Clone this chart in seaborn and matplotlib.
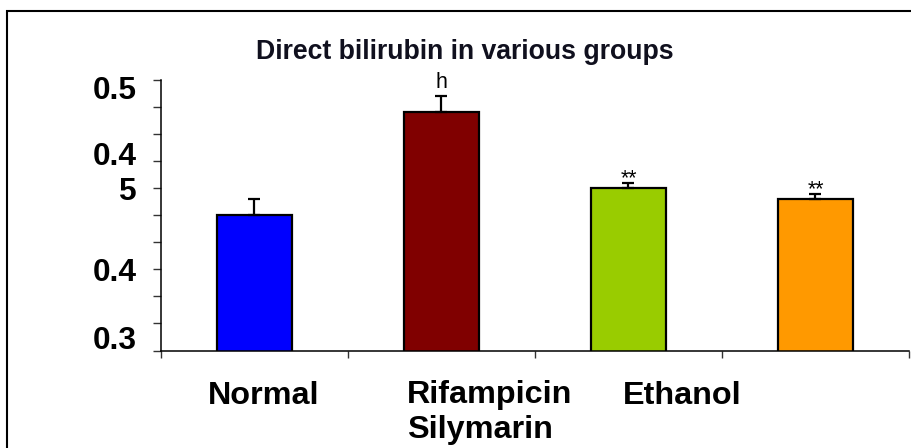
import matplotlib
matplotlib.use("Agg")
import matplotlib.pyplot as plt
from matplotlib.patches import Rectangle
import seaborn as sns
import pandas as pd

# ---- data ----
groups = ["Normal", "Rifampicin\nSilymarin", "Ethanol", " "]
values = [0.400, 0.476, 0.420, 0.412]
errors = [0.012, 0.012, 0.004, 0.004]
annotations = ["", "h", "**", "**"]
bar_colors = ["#0000FF", "#800000", "#99CC00", "#FF9900"]
ytick_labels = ["0.3", "0.4", "5", "0.4", "0.5"]
ytick_values = [0.3096, 0.3602, 0.4201, 0.4453, 0.4941]
minor_ticks = [0.30, 0.32, 0.34, 0.36, 0.38, 0.40, 0.42, 0.44, 0.46, 0.48, 0.50]
title = "Direct bilirubin in various groups"

sns.set_style("ticks")
plt.rcParams["font.family"] = ["Liberation Sans", "DejaVu Sans"]

df = pd.DataFrame({"group": groups, "value": values})

fig = plt.figure(figsize=(9.12, 4.48), dpi=100)
ax = fig.add_axes([161 / 912, 1 - 350.5 / 448, (909 - 161) / 912, (350.5 - 80) / 448])

sns.barplot(data=df, x="group", y="value", hue="group", palette=bar_colors,
            order=groups, hue_order=groups, legend=False, errorbar=None,
            width=0.4, edgecolor="black", linewidth=1.6, saturation=1, ax=ax)

xs = list(range(len(groups)))
ax.errorbar(xs, values, yerr=[[0] * len(errors), errors], fmt="none",
            ecolor="black", elinewidth=1.6, capsize=4.3, capthick=1.6, zorder=5)

# annotations above error caps
ann_offsets = [0, 6, -1, -1]
for x, v, e, t, off in zip(xs, values, errors, annotations, ann_offsets):
    if t:
        ax.annotate(t, xy=(x, v + e), xytext=(0, off), textcoords="offset points",
                    ha="center", va="baseline", fontsize=15.5, color="black",
                    annotation_clip=False)

ax.set_ylim(0.3, 0.5)
ax.set_xlim(-0.5, 3.5)

# y ticks: major = labels (no mark), minor = tick marks
ax.set_yticks(ytick_values)
ax.set_yticklabels(ytick_labels, fontsize=22.8, fontweight="bold", color="black")
ax.set_yticks(minor_ticks, minor=True)
ax.tick_params(axis="y", which="major", length=0, pad=17.3, labelcolor="black")
ax.tick_params(axis="y", which="minor", length=6, width=1.0, color="#333333", direction="out")

# x ticks at category boundaries
ax.set_xticks([-0.5, 0.5, 1.5, 2.5, 3.5])
ax.set_xticklabels([])
ax.tick_params(axis="x", which="major", length=5, width=1.0, color="#333333", direction="out")
ax.set_xlabel("")
ax.set_ylabel("")

# category labels (as in reference, shifted)
label_dx = [0.05, -0.185, 0.286, 0.0]
label_ha = ["center", "left", "center", "center"]
for x, g, dx, ha in zip(xs, groups, label_dx, label_ha):
    if g.strip():
        ax.annotate(g, xy=(x + dx, 0), xycoords=("data", "axes fraction"),
                    xytext=(0, -21.6), textcoords="offset points",
                    ha=ha, va="top", multialignment="left",
                    fontsize=23.3, fontweight="bold", color="black",
                    annotation_clip=False, linespacing=1.2)

for s in ["top", "right"]:
    ax.spines[s].set_visible(False)
for s in ["left", "bottom"]:
    ax.spines[s].set_color("black")
    ax.spines[s].set_linewidth(1.1)

fig.text(465 / 912, 1 - 59.3 / 448, title, ha="center", va="baseline",
         fontsize=19.2, fontweight="bold", color="#10101e")

# outer frame (open on right/bottom)
fig.add_artist(Rectangle((7 / 912, -0.1), 1.2, 1 - 11 / 448 + 0.1,
                         transform=fig.transFigure, fill=False,
                         edgecolor="black", linewidth=1.5))

fig.savefig("out.png", dpi=100)
